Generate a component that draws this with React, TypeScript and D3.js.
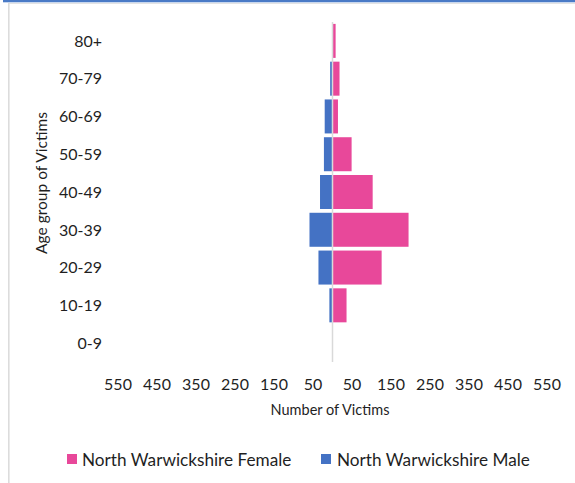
import React from "react";
import * as d3 from "d3";

const categories = ["80+", "70-79", "60-69", "50-59", "40-49", "30-39", "20-29", "10-19", "0-9"];
const femaleValues = [8, 18, 14, 49, 103, 195, 126, 36, 0];
const maleValues = [0, 6, 20, 22, 32, 59, 36, 8, 0];
const tickValues = [-550, -450, -350, -250, -150, -50, 50, 150, 250, 350, 450, 550];
const seriesNames = ["North Warwickshire Female", "North Warwickshire Male"];

const W = 575;
const H = 483;
const PINK = "#E8489A";
const BLUE = "#4472C4";
const FONT = "Lato, 'Open Sans', sans-serif";

export default function App() {
  const x = d3.scaleLinear().domain([-550, 550]).range([118, 547]);
  const y = d3.scaleBand<string>().domain(categories).range([22, 362]).paddingInner(0.1).paddingOuter(0.05);
  const bw = y.bandwidth();

  return (
    <div style={{ position: "absolute", left: 0, top: 0 }}>
      <svg width={W} height={H} style={{ display: "block", background: "#fff" }}>
        {/* frame from screenshot */}
        <rect x={3} y={0} width={W - 3} height={2.3} fill="#4A7AC6" />
        <rect x={8} y={3} width={W - 8} height={1} fill="#e3e3e3" />
        <rect x={8} y={3} width={1.6} height={H - 3} fill="#dcdcdc" />

        {/* bars */}
        {categories.map((c, i) => (
          <g key={c}>
            {maleValues[i] > 0 && (
              <rect x={x(-maleValues[i])} y={y(c)} width={x(0) - x(-maleValues[i])} height={bw} fill={BLUE} />
            )}
            {femaleValues[i] > 0 && (
              <rect x={x(0)} y={y(c)} width={x(femaleValues[i]) - x(0)} height={bw} fill={PINK} />
            )}
          </g>
        ))}

        {/* center axis line */}
        <line x1={x(0)} x2={x(0)} y1={22} y2={362} stroke="#d9d9d9" strokeWidth={1.5} />

        {/* y labels */}
        {categories.map((c) => (
          <text key={c} x={102} y={(y(c) as number) + bw / 2} dy="0.36em" textAnchor="end" fontFamily={FONT} fontSize={16} fill="#1f1f1f">
            {c}
          </text>
        ))}

        {/* x ticks */}
        {tickValues.map((t) => (
          <text key={t} x={x(t)} y={389.5} textAnchor="middle" fontFamily={FONT} fontSize={16} fill="#1f1f1f">
            {Math.abs(t)}
          </text>
        ))}

        {/* axis titles */}
        <text x={330} y={415} textAnchor="middle" fontFamily={FONT} fontSize={14.5} fill="#1f1f1f">
          Number of Victims
        </text>
        <text transform="translate(47,183) rotate(-90)" textAnchor="middle" fontFamily={FONT} fontSize={15.5} fill="#1f1f1f">
          Age group of Victims
        </text>

        {/* legend */}
        <rect x={67} y={454} width={10} height={10} fill={PINK} />
        <text x={82} y={465.5} fontFamily={FONT} fontSize={17.2} fill="#1f1f1f">{seriesNames[0]}</text>
        <rect x={321} y={454} width={10} height={10} fill={BLUE} />
        <text x={337} y={465.5} fontFamily={FONT} fontSize={17.2} fill="#1f1f1f">{seriesNames[1]}</text>
      </svg>
    </div>
  );
}
